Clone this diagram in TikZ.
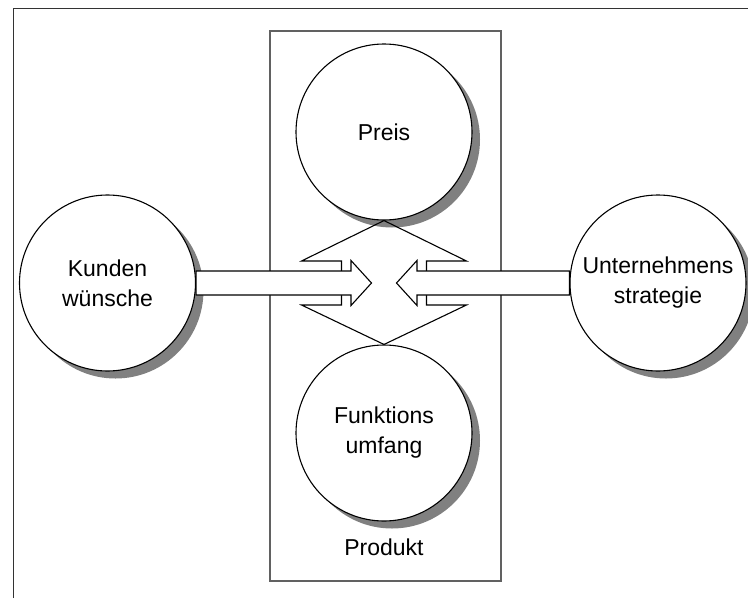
\documentclass[tikz,border=0pt]{standalone}
\usepackage{fontspec}
\setmainfont{Liberation Sans}
\usetikzlibrary{shadows,calc}
\begin{document}
\begin{tikzpicture}[x=1pt,y=-1pt,
  bubble/.style={circle, draw=black, line width=1.1pt, fill=white,
    minimum size=176pt, inner sep=0pt, align=center,
    font=\fontsize{23}{30}\selectfont,
    drop shadow={shadow xshift=8pt, shadow yshift=-7.5pt, fill=black!50, opacity=1}},
  blockarrow/.style={draw=black, line width=1.1pt, fill=white, line join=miter},
  diamondline/.style={draw=black, line width=1.1pt, line join=miter},
  frameline/.style={draw=black!80, line width=1pt},
  productbox/.style={draw=black!62, line width=1.6pt, inner sep=0pt,
    minimum width=231pt, minimum height=550pt, anchor=north west},
  caption/.style={font=\fontsize{23}{30}\selectfont}]
\useasboundingbox (0,0) rectangle (748,598);

% outer frame (only top and left edges lie inside the page)
\draw[frameline] (13,598) -- (13,8) -- (748,8);

% product box with its caption
\node[productbox] (produkt) at (269,30) {};
\node[caption] (produktlabel) at (384,547) {Produkt};

% the four bubbles
\node[bubble] (preis) at (384,132) {Preis};
\node[bubble] (funktion) at (384,433) {Funktions\\umfang};
\node[bubble] (kunden) at (107.5,283) {Kunden\\wünsche};
\node[bubble] (strategie) at (658,283) {Unternehmens\\strategie};

% vertical double arrow between Preis and Funktionsumfang
\draw[diamondline] (341.5,271) -- (341.5,261) -- (301.5,261) -- (preis.south)
  -- (466.5,261) -- (426.5,261) -- (426.5,271);
\draw[diamondline] (341.5,295) -- (341.5,305) -- (301.5,305) -- (funktion.north)
  -- (466.5,305) -- (426.5,305) -- (426.5,295);

% block arrows from the side bubbles towards the product
\coordinate (tipL) at (371.5,283);
\coordinate (tipR) at (396.5,283);
\draw[blockarrow] ([yshift=12pt]kunden.east) -- (351,271) -- (351,260.5) -- (tipL)
  -- (351,305.5) -- (351,295) -- ([yshift=-12pt]kunden.east) -- cycle;
\draw[blockarrow] ([yshift=12pt]strategie.west) -- (417,271) -- (417,260.5) -- (tipR)
  -- (417,305.5) -- (417,295) -- ([yshift=-12pt]strategie.west) -- cycle;
\end{tikzpicture}
\end{document}
